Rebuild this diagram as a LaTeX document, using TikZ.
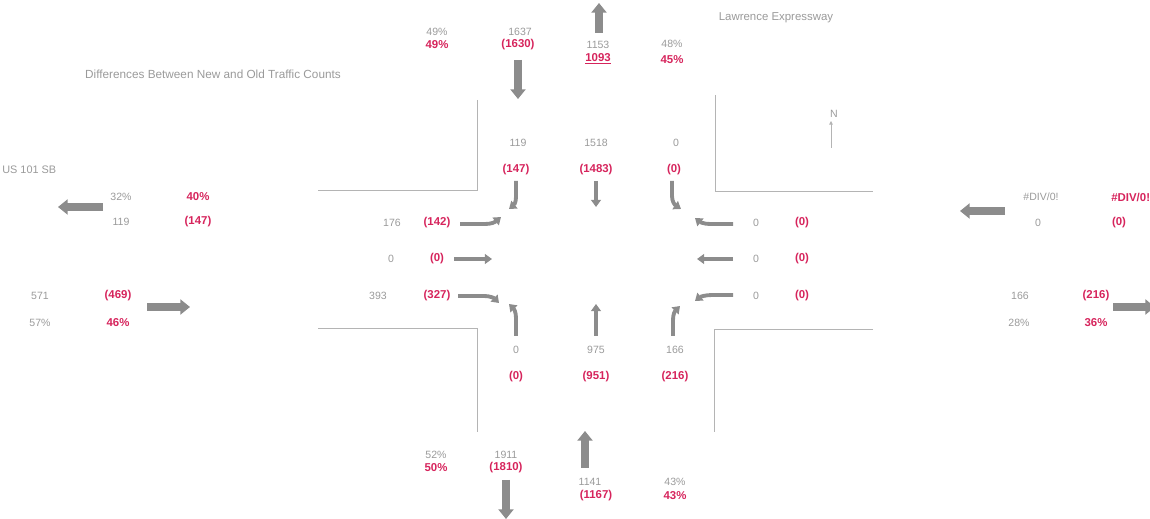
\documentclass[tikz,border=0pt]{standalone}
\usepackage{fontspec}
\setmainfont{Liberation Sans}
\usetikzlibrary{arrows.meta}
\definecolor{cntred}{HTML}{D6245C}
\definecolor{cntgray}{HTML}{9A9A9A}
\definecolor{roadgray}{HTML}{B4B4B4}
\definecolor{arrgray}{HTML}{8C8C8C}
\begin{document}
\begin{tikzpicture}[x=0.02cm,y=-0.02cm,
  old/.style={text=cntgray,font=\fontsize{6}{7}\selectfont,inner sep=0pt},
  new/.style={text=cntred,font=\fontsize{6.5}{7}\selectfont\bfseries,inner sep=0pt},
  road/.style={draw=roadgray,line width=0.5pt},
  flow/.style={draw=arrgray,line width=4pt,-{Triangle[width=8.5pt,length=5.5pt]}},
  turn/.style={draw=arrgray,line width=2.2pt,-{Triangle[width=5.5pt,length=4pt]}}]
\clip (0,0) rectangle (1150,519);
% titles
\node[old,font=\fontsize{6.7}{7}\selectfont] (title) at (213,74) {Differences Between New and Old Traffic Counts};
\node[old,font=\fontsize{6.5}{7}\selectfont] (lawr) at (776,18) {Lawrence Expressway};
\node[old,font=\fontsize{6.2}{7}\selectfont,anchor=west] (us101) at (2,170) {US 101 SB};
\node[old,font=\fontsize{6}{7}\selectfont] (north) at (834,114) {N};
\draw[draw=roadgray,line width=0.4pt,-{Triangle[width=2pt,length=2pt]}] (831,148) -- (831,121);
% road edges
\draw[road] (477,100) -- (477,190) -- (318,190);
\draw[road] (715,95) -- (715,191) -- (873,191);
\draw[road] (318,328) -- (477,328) -- (477,432);
\draw[road] (873,329) -- (714,329) -- (714,432);
% north leg
\node[old] (np1) at (437,32) {49\%};   \node[new] (np2) at (437,45) {49\%};
\node[old] (nv1) at (520,32) {1637};   \node[new] (nv2) at (518,45) {(1630)};
\node[old] (nx1) at (598,45) {1153};   \node[new] (nx2) at (598,59) {\underline{1093}};
\node[old] (nq1) at (672,44) {48\%};   \node[new] (nq2) at (672,60) {45\%};
\draw[flow] (518,60) -- (518,99);
\draw[flow] (599,33) -- (599,3);
% southbound approach
\node[old] (sr1) at (518,143) {119};  \node[new] (sr2) at (516,170) {(147)};
\node[old] (st1) at (596,143) {1518}; \node[new] (st2) at (596,170) {(1483)};
\node[old] (sl1) at (676,143) {0};    \node[new] (sl2) at (674,170) {(0)};
\draw[turn] (516,181) -- (516,197) .. controls (516,202) and (514,205) .. (509,209);
\draw[turn] (596,181) -- (596,207);
\draw[turn] (672,181) -- (672,196) .. controls (672,202) and (675,205) .. (681,209);
% eastbound approach
\node[old] (el1) at (392,223) {176}; \node[new] (el2) at (437,223) {(142)};
\node[old] (et1) at (391,259) {0};   \node[new] (et2) at (437,259) {(0)};
\node[old] (er1) at (378,296) {393}; \node[new] (er2) at (437,296) {(327)};
\draw[turn] (460,224) -- (485,224) .. controls (492,224) and (495,222) .. (501,217);
\draw[turn] (454,259) -- (492,259);
\draw[turn] (458,296) -- (484,296) .. controls (490,296) and (494,298) .. (499,303);
% westbound approach
\node[old] (wr1) at (756,223) {0}; \node[new] (wr2) at (802,223) {(0)};
\node[old] (wt1) at (756,259) {0}; \node[new] (wt2) at (802,259) {(0)};
\node[old] (wl1) at (756,296) {0}; \node[new] (wl2) at (802,296) {(0)};
\draw[turn] (733,224) -- (710,224) .. controls (704,224) and (700,222) .. (695,218);
\draw[turn] (733,259) -- (697,259);
\draw[turn] (733,295) -- (712,295) .. controls (705,295) and (700,297) .. (695,301);
% northbound approach
\draw[turn] (516,336) -- (516,318) .. controls (516,312) and (514,309) .. (509,304);
\draw[turn] (596,336) -- (596,304);
\draw[turn] (673,336) -- (673,320) .. controls (673,314) and (675,311) .. (680,306);
\node[old] (bl1) at (516,350) {0};   \node[new] (bl2) at (516,377) {(0)};
\node[old] (bt1) at (596,350) {975}; \node[new] (bt2) at (596,377) {(951)};
\node[old] (br1) at (675,350) {166}; \node[new] (br2) at (675,377) {(216)};
% west leg
\draw[flow] (103,207) -- (58,207);
\node[old] (wp1) at (121,197) {32\%}; \node[new] (wp2) at (198,197) {40\%};
\node[old] (wv1) at (121,222) {119};  \node[new] (wv2) at (198,222) {(147)};
\node[old] (wi1) at (40,296) {571};   \node[new] (wi2) at (118,296) {(469)};
\node[old] (wq1) at (40,323) {57\%};  \node[new] (wq2) at (118,323) {46\%};
\draw[flow] (147,307) -- (190,307);
% east leg
\draw[flow] (1005,211) -- (960,211);
\node[old] (ep1) at (1041,197) {\#DIV/0!}; \node[new,anchor=west] (ep2) at (1111,197) {\#DIV/0!};
\node[old] (ev1) at (1038,223) {0};        \node[new] (ev2) at (1119,223) {(0)};
\node[old] (ei1) at (1020,296) {166};      \node[new] (ei2) at (1096,296) {(216)};
\node[old] (eq1) at (1019,323) {28\%};     \node[new] (eq2) at (1096,323) {36\%};
\draw[flow] (1113,307) -- (1155,307);
% south leg
\node[old] (sp1) at (436,455) {52\%};  \node[new] (sp2) at (436,468) {50\%};
\node[old] (sv1) at (506,455) {1911};  \node[new] (sv2) at (506,468) {(1810)};
\draw[flow] (506,480) -- (506,519);
\draw[flow] (585,468) -- (585,431);
\node[old] (sx1) at (590,482) {1141};  \node[new] (sx2) at (596,496) {(1167)};
\node[old] (sq1) at (675,482) {43\%};  \node[new] (sq2) at (675,496) {43\%};
\end{tikzpicture}
\end{document}
